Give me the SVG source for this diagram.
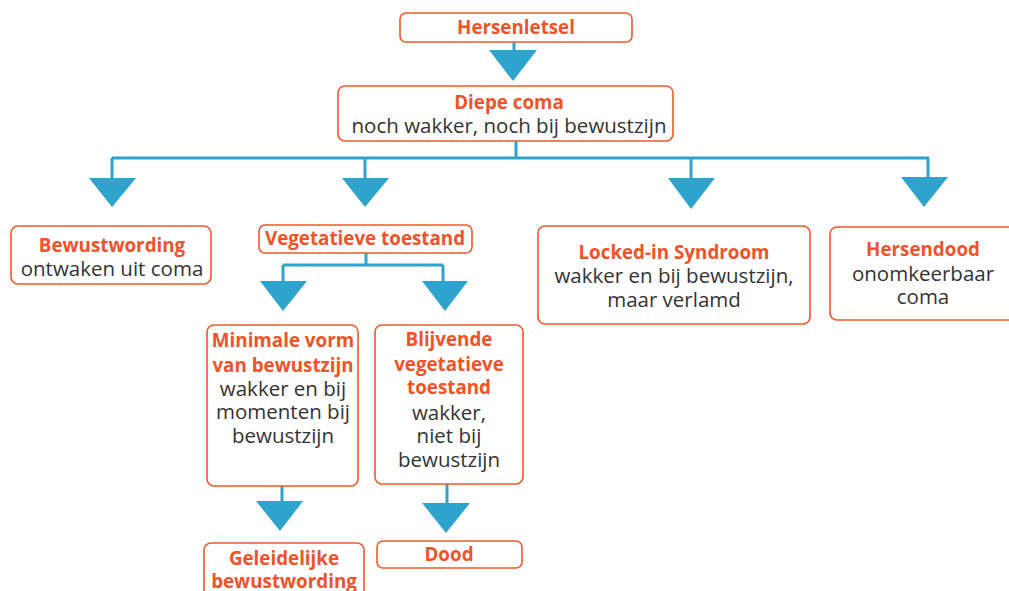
<svg xmlns="http://www.w3.org/2000/svg" width="1009" height="591" viewBox="0 0 1009 591">
<style>
.box{fill:#fff;stroke:#f0582a;stroke-width:1.6}
.h{font-family:"Open Sans","Noto Sans",sans-serif;font-weight:bold;font-size:18.8px;fill:#f0522a;text-anchor:middle}
.t{font-family:"Open Sans","Noto Sans",sans-serif;font-size:20.5px;fill:#333;text-anchor:middle}
.ln{fill:none;stroke:#2ea3cc;stroke-width:3}
.ar{fill:#2ea3cc}
</style>
<rect width="1009" height="591" fill="#fff"/>
<g id="connectors">
<path class="ln" d="M514 42V52"/>
<polygon class="ar" points="489,50 537,50 513,81"/>
<path class="ln" d="M516 141V158M112 158H929M112 158V180M365 158V180M691 158V180M928 158V180"/>
<polygon class="ar" points="89,178 136,178 112,207"/>
<polygon class="ar" points="342,178 389,178 365,207"/>
<polygon class="ar" points="668,178 715,178 691,209"/>
<polygon class="ar" points="901,177 948,177 924,207"/>
<path class="ln" d="M366 253V265M283 265H443M283 265V283M443 265V283"/>
<polygon class="ar" points="260,281 307,281 283,311"/>
<polygon class="ar" points="422,281 468,281 445,311"/>
<path class="ln" d="M282 486V503M447 484V505"/>
<polygon class="ar" points="256,501 303,501 280,531"/>
<polygon class="ar" points="422,503 470,503 446,533"/>
</g>
<g id="hersenletsel">
<rect class="box" x="400" y="13" width="232" height="29" rx="6"/>
<text class="h" x="516" y="34">Hersenletsel</text>
</g>
<g id="diepe-coma">
<rect class="box" x="338" y="86" width="335" height="55" rx="7"/>
<text class="h" x="509" y="109">Diepe coma</text>
<text class="t" x="509" y="133">noch wakker, noch bij bewustzijn</text>
</g>
<g id="bewustwording">
<rect class="box" x="11" y="226" width="200" height="58" rx="7"/>
<text class="h" x="112" y="252">Bewustwording</text>
<text class="t" x="112" y="276">ontwaken uit coma</text>
</g>
<g id="vegetatieve">
<rect class="box" x="259" y="225" width="213" height="28" rx="6"/>
<text class="h" x="365" y="245">Vegetatieve toestand</text>
</g>
<g id="locked-in">
<rect class="box" x="538" y="226" width="272" height="98" rx="7"/>
<text class="h" x="674" y="259">Locked-in Syndroom</text>
<text class="t" x="674" y="283">wakker en bij bewustzijn,</text>
<text class="t" x="674" y="307">maar verlamd</text>
</g>
<g id="hersendood">
<rect class="box" x="830" y="227" width="190" height="93" rx="7"/>
<text class="h" x="923" y="256">Hersendood</text>
<text class="t" x="923" y="281">onomkeerbaar</text>
<text class="t" x="923" y="304">coma</text>
</g>
<g id="minimale">
<rect class="box" x="207" y="325" width="151" height="161" rx="7"/>
<text class="h" x="283" y="347">Minimale vorm</text>
<text class="h" x="283" y="372">van bewustzijn</text>
<text class="t" x="283" y="396">wakker en bij</text>
<text class="t" x="283" y="419">momenten bij</text>
<text class="t" x="283" y="443">bewustzijn</text>
</g>
<g id="blijvende">
<rect class="box" x="375" y="325" width="148" height="159" rx="7"/>
<text class="h" x="449" y="346">Blijvende</text>
<text class="h" x="449" y="371">vegetatieve</text>
<text class="h" x="449" y="394">toestand</text>
<text class="t" x="449" y="420">wakker,</text>
<text class="t" x="449" y="443">niet bij</text>
<text class="t" x="449" y="467">bewustzijn</text>
</g>
<g id="geleidelijke">
<rect class="box" x="204" y="543" width="160" height="60" rx="7"/>
<text class="h" x="284" y="565">Geleidelijke</text>
<text class="h" x="284" y="588">bewustwording</text>
</g>
<g id="dood">
<rect class="box" x="377" y="541" width="145" height="27" rx="6"/>
<text class="h" x="449" y="561">Dood</text>
</g>
</svg>
